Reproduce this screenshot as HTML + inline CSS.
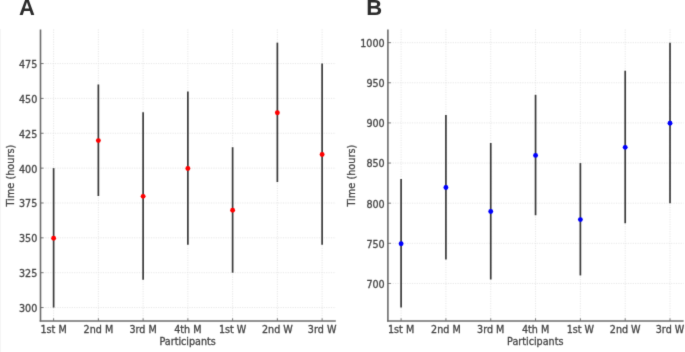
<!DOCTYPE html><html><head><meta charset="utf-8"><style>html,body{margin:0;padding:0;background:#fff;}svg{display:block;}text{font-family:"DejaVu Sans","Liberation Sans",sans-serif;}.t{stroke:#454545;stroke-width:0.3px;}</style></head><body>
<svg width="685" height="352" viewBox="0 0 685 352">
<defs><filter id="bl" x="0" y="0" width="685" height="352" filterUnits="userSpaceOnUse" color-interpolation-filters="sRGB"><feConvolveMatrix order="3" kernelMatrix="0.01134 0.08382 0.01134 0.08382 0.61935 0.08382 0.01134 0.08382 0.01134" edgeMode="duplicate"/></filter></defs>
<g filter="url(#bl)">
<rect width="685" height="352" fill="#fff"/>
<line x1="0.5" y1="29" x2="0.5" y2="352" stroke="#f5f5f5" stroke-width="1"/>
<line x1="53.62" y1="29.40" x2="53.62" y2="320.80" stroke="#e2e2e2" stroke-width="0.8" stroke-dasharray="1.2 1.2"/>
<line x1="98.37" y1="29.40" x2="98.37" y2="320.80" stroke="#e2e2e2" stroke-width="0.8" stroke-dasharray="1.2 1.2"/>
<line x1="143.12" y1="29.40" x2="143.12" y2="320.80" stroke="#e2e2e2" stroke-width="0.8" stroke-dasharray="1.2 1.2"/>
<line x1="187.87" y1="29.40" x2="187.87" y2="320.80" stroke="#e2e2e2" stroke-width="0.8" stroke-dasharray="1.2 1.2"/>
<line x1="232.62" y1="29.40" x2="232.62" y2="320.80" stroke="#e2e2e2" stroke-width="0.8" stroke-dasharray="1.2 1.2"/>
<line x1="277.37" y1="29.40" x2="277.37" y2="320.80" stroke="#e2e2e2" stroke-width="0.8" stroke-dasharray="1.2 1.2"/>
<line x1="322.12" y1="29.40" x2="322.12" y2="320.80" stroke="#e2e2e2" stroke-width="0.8" stroke-dasharray="1.2 1.2"/>
<line x1="40.50" y1="307.55" x2="335.80" y2="307.55" stroke="#e2e2e2" stroke-width="0.8" stroke-dasharray="1.2 1.2"/>
<line x1="40.50" y1="272.70" x2="335.80" y2="272.70" stroke="#e2e2e2" stroke-width="0.8" stroke-dasharray="1.2 1.2"/>
<line x1="40.50" y1="237.84" x2="335.80" y2="237.84" stroke="#e2e2e2" stroke-width="0.8" stroke-dasharray="1.2 1.2"/>
<line x1="40.50" y1="202.99" x2="335.80" y2="202.99" stroke="#e2e2e2" stroke-width="0.8" stroke-dasharray="1.2 1.2"/>
<line x1="40.50" y1="168.13" x2="335.80" y2="168.13" stroke="#e2e2e2" stroke-width="0.8" stroke-dasharray="1.2 1.2"/>
<line x1="40.50" y1="133.27" x2="335.80" y2="133.27" stroke="#e2e2e2" stroke-width="0.8" stroke-dasharray="1.2 1.2"/>
<line x1="40.50" y1="98.42" x2="335.80" y2="98.42" stroke="#e2e2e2" stroke-width="0.8" stroke-dasharray="1.2 1.2"/>
<line x1="40.50" y1="63.56" x2="335.80" y2="63.56" stroke="#e2e2e2" stroke-width="0.8" stroke-dasharray="1.2 1.2"/>
<line x1="53.62" y1="307.55" x2="53.62" y2="168.13" stroke="#3a3a3a" stroke-width="1.7"/>
<line x1="98.37" y1="196.01" x2="98.37" y2="84.47" stroke="#3a3a3a" stroke-width="1.7"/>
<line x1="143.12" y1="279.67" x2="143.12" y2="112.36" stroke="#3a3a3a" stroke-width="1.7"/>
<line x1="187.87" y1="244.81" x2="187.87" y2="91.44" stroke="#3a3a3a" stroke-width="1.7"/>
<line x1="232.62" y1="272.70" x2="232.62" y2="147.21" stroke="#3a3a3a" stroke-width="1.7"/>
<line x1="277.37" y1="182.07" x2="277.37" y2="42.65" stroke="#3a3a3a" stroke-width="1.7"/>
<line x1="322.12" y1="244.81" x2="322.12" y2="63.56" stroke="#3a3a3a" stroke-width="1.7"/>
<circle cx="53.62" cy="238.19" r="2.45" fill="#ff0000"/>
<circle cx="98.37" cy="140.59" r="2.45" fill="#ff0000"/>
<circle cx="143.12" cy="196.36" r="2.45" fill="#ff0000"/>
<circle cx="187.87" cy="168.48" r="2.45" fill="#ff0000"/>
<circle cx="232.62" cy="210.31" r="2.45" fill="#ff0000"/>
<circle cx="277.37" cy="112.71" r="2.45" fill="#ff0000"/>
<circle cx="322.12" cy="154.54" r="2.45" fill="#ff0000"/>
<line x1="40.50" y1="29.40" x2="40.50" y2="321.60" stroke="#6c6c6c" stroke-width="1.6"/>
<line x1="39.70" y1="321.00" x2="335.80" y2="321.00" stroke="#6c6c6c" stroke-width="1.6"/>
<line x1="40.50" y1="307.55" x2="43.50" y2="307.55" stroke="#666" stroke-width="0.9"/>
<text x="37.30" y="311.95" font-size="9.6" fill="#454545" class="t" text-anchor="end">300</text>
<line x1="40.50" y1="272.70" x2="43.50" y2="272.70" stroke="#666" stroke-width="0.9"/>
<text x="37.30" y="277.10" font-size="9.6" fill="#454545" class="t" text-anchor="end">325</text>
<line x1="40.50" y1="237.84" x2="43.50" y2="237.84" stroke="#666" stroke-width="0.9"/>
<text x="37.30" y="242.24" font-size="9.6" fill="#454545" class="t" text-anchor="end">350</text>
<line x1="40.50" y1="202.99" x2="43.50" y2="202.99" stroke="#666" stroke-width="0.9"/>
<text x="37.30" y="207.39" font-size="9.6" fill="#454545" class="t" text-anchor="end">375</text>
<line x1="40.50" y1="168.13" x2="43.50" y2="168.13" stroke="#666" stroke-width="0.9"/>
<text x="37.30" y="172.53" font-size="9.6" fill="#454545" class="t" text-anchor="end">400</text>
<line x1="40.50" y1="133.27" x2="43.50" y2="133.27" stroke="#666" stroke-width="0.9"/>
<text x="37.30" y="137.67" font-size="9.6" fill="#454545" class="t" text-anchor="end">425</text>
<line x1="40.50" y1="98.42" x2="43.50" y2="98.42" stroke="#666" stroke-width="0.9"/>
<text x="37.30" y="102.82" font-size="9.6" fill="#454545" class="t" text-anchor="end">450</text>
<line x1="40.50" y1="63.56" x2="43.50" y2="63.56" stroke="#666" stroke-width="0.9"/>
<text x="37.30" y="67.96" font-size="9.6" fill="#454545" class="t" text-anchor="end">475</text>
<line x1="53.62" y1="320.80" x2="53.62" y2="318.30" stroke="#666" stroke-width="0.9"/>
<text x="53.62" y="332.7" font-size="9.6" fill="#454545" class="t" text-anchor="middle">1st M</text>
<line x1="98.37" y1="320.80" x2="98.37" y2="318.30" stroke="#666" stroke-width="0.9"/>
<text x="98.37" y="332.7" font-size="9.6" fill="#454545" class="t" text-anchor="middle">2nd M</text>
<line x1="143.12" y1="320.80" x2="143.12" y2="318.30" stroke="#666" stroke-width="0.9"/>
<text x="143.12" y="332.7" font-size="9.6" fill="#454545" class="t" text-anchor="middle">3rd M</text>
<line x1="187.87" y1="320.80" x2="187.87" y2="318.30" stroke="#666" stroke-width="0.9"/>
<text x="187.87" y="332.7" font-size="9.6" fill="#454545" class="t" text-anchor="middle">4th M</text>
<line x1="232.62" y1="320.80" x2="232.62" y2="318.30" stroke="#666" stroke-width="0.9"/>
<text x="232.62" y="332.7" font-size="9.6" fill="#454545" class="t" text-anchor="middle">1st W</text>
<line x1="277.37" y1="320.80" x2="277.37" y2="318.30" stroke="#666" stroke-width="0.9"/>
<text x="277.37" y="332.7" font-size="9.6" fill="#454545" class="t" text-anchor="middle">2nd W</text>
<line x1="322.12" y1="320.80" x2="322.12" y2="318.30" stroke="#666" stroke-width="0.9"/>
<text x="322.12" y="332.7" font-size="9.6" fill="#454545" class="t" text-anchor="middle">3rd W</text>
<text x="187.65" y="344.7" font-size="9.6" fill="#454545" class="t" text-anchor="middle">Participants</text>
<text transform="translate(13.60,175.6) rotate(-90)" font-size="9.75" fill="#454545" class="t" text-anchor="middle">Time (hours)</text>
<text x="19.10" y="14.5" font-size="22" font-weight="bold" fill="#2b2b2b" style="font-family:'Liberation Sans',sans-serif">A</text>
<line x1="401.10" y1="29.40" x2="401.10" y2="320.80" stroke="#e2e2e2" stroke-width="0.8" stroke-dasharray="1.2 1.2"/>
<line x1="445.92" y1="29.40" x2="445.92" y2="320.80" stroke="#e2e2e2" stroke-width="0.8" stroke-dasharray="1.2 1.2"/>
<line x1="490.74" y1="29.40" x2="490.74" y2="320.80" stroke="#e2e2e2" stroke-width="0.8" stroke-dasharray="1.2 1.2"/>
<line x1="535.56" y1="29.40" x2="535.56" y2="320.80" stroke="#e2e2e2" stroke-width="0.8" stroke-dasharray="1.2 1.2"/>
<line x1="580.38" y1="29.40" x2="580.38" y2="320.80" stroke="#e2e2e2" stroke-width="0.8" stroke-dasharray="1.2 1.2"/>
<line x1="625.20" y1="29.40" x2="625.20" y2="320.80" stroke="#e2e2e2" stroke-width="0.8" stroke-dasharray="1.2 1.2"/>
<line x1="670.02" y1="29.40" x2="670.02" y2="320.80" stroke="#e2e2e2" stroke-width="0.8" stroke-dasharray="1.2 1.2"/>
<line x1="387.90" y1="283.47" x2="683.60" y2="283.47" stroke="#e2e2e2" stroke-width="0.8" stroke-dasharray="1.2 1.2"/>
<line x1="387.90" y1="243.33" x2="683.60" y2="243.33" stroke="#e2e2e2" stroke-width="0.8" stroke-dasharray="1.2 1.2"/>
<line x1="387.90" y1="203.20" x2="683.60" y2="203.20" stroke="#e2e2e2" stroke-width="0.8" stroke-dasharray="1.2 1.2"/>
<line x1="387.90" y1="163.06" x2="683.60" y2="163.06" stroke="#e2e2e2" stroke-width="0.8" stroke-dasharray="1.2 1.2"/>
<line x1="387.90" y1="122.92" x2="683.60" y2="122.92" stroke="#e2e2e2" stroke-width="0.8" stroke-dasharray="1.2 1.2"/>
<line x1="387.90" y1="82.78" x2="683.60" y2="82.78" stroke="#e2e2e2" stroke-width="0.8" stroke-dasharray="1.2 1.2"/>
<line x1="387.90" y1="42.65" x2="683.60" y2="42.65" stroke="#e2e2e2" stroke-width="0.8" stroke-dasharray="1.2 1.2"/>
<line x1="401.10" y1="307.55" x2="401.10" y2="179.11" stroke="#3a3a3a" stroke-width="1.7"/>
<line x1="445.92" y1="259.39" x2="445.92" y2="114.89" stroke="#3a3a3a" stroke-width="1.7"/>
<line x1="490.74" y1="279.46" x2="490.74" y2="142.99" stroke="#3a3a3a" stroke-width="1.7"/>
<line x1="535.56" y1="215.24" x2="535.56" y2="94.82" stroke="#3a3a3a" stroke-width="1.7"/>
<line x1="580.38" y1="275.44" x2="580.38" y2="163.06" stroke="#3a3a3a" stroke-width="1.7"/>
<line x1="625.20" y1="223.27" x2="625.20" y2="70.74" stroke="#3a3a3a" stroke-width="1.7"/>
<line x1="670.02" y1="203.20" x2="670.02" y2="42.65" stroke="#3a3a3a" stroke-width="1.7"/>
<circle cx="401.10" cy="243.68" r="2.45" fill="#0000ff"/>
<circle cx="445.92" cy="187.49" r="2.45" fill="#0000ff"/>
<circle cx="490.74" cy="211.57" r="2.45" fill="#0000ff"/>
<circle cx="535.56" cy="155.38" r="2.45" fill="#0000ff"/>
<circle cx="580.38" cy="219.60" r="2.45" fill="#0000ff"/>
<circle cx="625.20" cy="147.35" r="2.45" fill="#0000ff"/>
<circle cx="670.02" cy="123.27" r="2.45" fill="#0000ff"/>
<line x1="387.90" y1="29.40" x2="387.90" y2="321.60" stroke="#6c6c6c" stroke-width="1.6"/>
<line x1="387.10" y1="321.00" x2="683.60" y2="321.00" stroke="#6c6c6c" stroke-width="1.6"/>
<line x1="387.90" y1="283.47" x2="390.90" y2="283.47" stroke="#666" stroke-width="0.9"/>
<text x="384.70" y="287.87" font-size="9.6" fill="#454545" class="t" text-anchor="end">700</text>
<line x1="387.90" y1="243.33" x2="390.90" y2="243.33" stroke="#666" stroke-width="0.9"/>
<text x="384.70" y="247.73" font-size="9.6" fill="#454545" class="t" text-anchor="end">750</text>
<line x1="387.90" y1="203.20" x2="390.90" y2="203.20" stroke="#666" stroke-width="0.9"/>
<text x="384.70" y="207.60" font-size="9.6" fill="#454545" class="t" text-anchor="end">800</text>
<line x1="387.90" y1="163.06" x2="390.90" y2="163.06" stroke="#666" stroke-width="0.9"/>
<text x="384.70" y="167.46" font-size="9.6" fill="#454545" class="t" text-anchor="end">850</text>
<line x1="387.90" y1="122.92" x2="390.90" y2="122.92" stroke="#666" stroke-width="0.9"/>
<text x="384.70" y="127.32" font-size="9.6" fill="#454545" class="t" text-anchor="end">900</text>
<line x1="387.90" y1="82.78" x2="390.90" y2="82.78" stroke="#666" stroke-width="0.9"/>
<text x="384.70" y="87.18" font-size="9.6" fill="#454545" class="t" text-anchor="end">950</text>
<line x1="387.90" y1="42.65" x2="390.90" y2="42.65" stroke="#666" stroke-width="0.9"/>
<text x="384.70" y="47.05" font-size="9.6" fill="#454545" class="t" text-anchor="end">1000</text>
<line x1="401.10" y1="320.80" x2="401.10" y2="318.30" stroke="#666" stroke-width="0.9"/>
<text x="401.10" y="332.7" font-size="9.6" fill="#454545" class="t" text-anchor="middle">1st M</text>
<line x1="445.92" y1="320.80" x2="445.92" y2="318.30" stroke="#666" stroke-width="0.9"/>
<text x="445.92" y="332.7" font-size="9.6" fill="#454545" class="t" text-anchor="middle">2nd M</text>
<line x1="490.74" y1="320.80" x2="490.74" y2="318.30" stroke="#666" stroke-width="0.9"/>
<text x="490.74" y="332.7" font-size="9.6" fill="#454545" class="t" text-anchor="middle">3rd M</text>
<line x1="535.56" y1="320.80" x2="535.56" y2="318.30" stroke="#666" stroke-width="0.9"/>
<text x="535.56" y="332.7" font-size="9.6" fill="#454545" class="t" text-anchor="middle">4th M</text>
<line x1="580.38" y1="320.80" x2="580.38" y2="318.30" stroke="#666" stroke-width="0.9"/>
<text x="580.38" y="332.7" font-size="9.6" fill="#454545" class="t" text-anchor="middle">1st W</text>
<line x1="625.20" y1="320.80" x2="625.20" y2="318.30" stroke="#666" stroke-width="0.9"/>
<text x="625.20" y="332.7" font-size="9.6" fill="#454545" class="t" text-anchor="middle">2nd W</text>
<line x1="670.02" y1="320.80" x2="670.02" y2="318.30" stroke="#666" stroke-width="0.9"/>
<text x="670.02" y="332.7" font-size="9.6" fill="#454545" class="t" text-anchor="middle">3rd W</text>
<text x="535.25" y="344.7" font-size="9.6" fill="#454545" class="t" text-anchor="middle">Participants</text>
<text transform="translate(355.00,175.6) rotate(-90)" font-size="9.75" fill="#454545" class="t" text-anchor="middle">Time (hours)</text>
<text x="366.30" y="14.5" font-size="22" font-weight="bold" fill="#2b2b2b" style="font-family:'Liberation Sans',sans-serif">B</text>
</g>
</svg></body></html>
